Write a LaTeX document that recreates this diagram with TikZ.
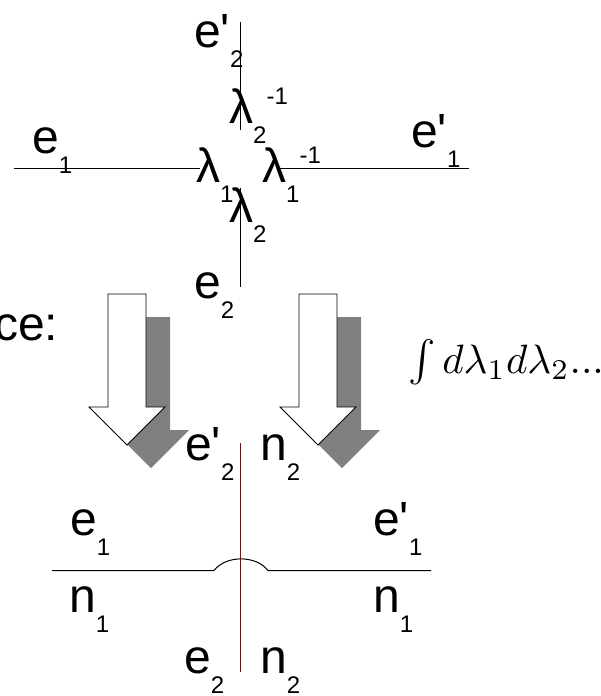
\documentclass[tikz,border=0pt]{standalone}
\usepackage{graphicx}
\usepackage{fontspec}
\newfontfamily\af{Liberation Sans}
\definecolor{myred}{RGB}{150,0,0}
\definecolor{shadowgray}{RGB}{128,128,128}
\newcommand\sbx[1]{\raisebox{-20pt}{\fontsize{24}{26}\selectfont #1}}
\newcommand\spx[1]{\raisebox{19pt}{\fontsize{24}{26}\selectfont #1}}
\tikzset{
  lbl/.style={anchor=base west, inner sep=0pt, font=\af\fontsize{48}{52}\selectfont},
  thinline/.style={line width=1pt, draw=black},
  redl/.style={line width=1.1pt, draw=myred},
  pics/bigarrow/.style={code={
    \fill[fill=shadowgray] (24,23) -- ++(38,0) -- ++(0,113) -- ++(19,0) -- ++(-38,38) -- ++(-38,-38) -- ++(19,0) -- cycle;
    \filldraw[fill=white, draw=black, line width=0.8pt] (0,0) -- (38,0) -- (38,113) -- (57,113) -- (19,151) -- (-19,113) -- (0,113) -- cycle;
  }}
}
\begin{document}
\begin{tikzpicture}[x=1pt, y=-1pt]
\useasboundingbox (0,0) rectangle (600,696);
\clip (0,0) rectangle (600,696);
% top diagram lines
\coordinate (hl1) at (14,168.5);
\coordinate (hl2) at (200,168.5);
\coordinate (hr1) at (277,168.5);
\coordinate (hr2) at (469,168.5);
\coordinate (vt1) at (240.5,22);
\coordinate (vt2) at (240.5,130);
\coordinate (vb1) at (240.5,188);
\coordinate (vb2) at (240.5,287);
\draw[thinline] (hl1) -- (hl2);
\draw[thinline] (hr1) -- (hr2);
\draw[thinline] (vt1) -- (vt2);
\draw[thinline] (vb1) -- (vb2);
% top labels
\node[lbl] (e2pt) at (194,47) {e'\sbx{2}};
\node[lbl] (l2inv) at (229,123) {λ\sbx{2}\spx{-1}};
\node[lbl] (e1t) at (32,153) {e\sbx{1}};
\node[lbl] (l1) at (196,182) {λ\sbx{1}};
\node[lbl] (l1inv) at (262,182) {λ\sbx{1}\spx{-1}};
\node[lbl] (e1pt) at (411,147) {e'\sbx{1}};
\node[lbl] (l2) at (229,222) {λ\sbx{2}};
\node[lbl] (e2t) at (194,298) {e\sbx{2}};
% middle
\node[lbl] (ce) at (-6,340) {ce:};
\pic at (108,294) {bigarrow};
\pic at (299,294) {bigarrow};
\node[anchor=base west, inner sep=0pt] (intg) at (408,373) {\scalebox{4.1}{$\int d\lambda_1 d\lambda_2 ...$}};
% bottom diagram
\coordinate (bl1) at (52,570.5);
\coordinate (ba1) at (214,570.5);
\coordinate (ba2) at (268,570.5);
\coordinate (bl2) at (431,570.5);
\draw[thinline] (bl1) -- (ba1) .. controls (226,555) and (256,555) .. (ba2) -- (bl2);
\coordinate (rt) at (240.5,443);
\coordinate (rb) at (240.5,672);
\draw[redl] (rt) -- (rb);
\node[lbl] (e2pb) at (185,460) {e'\sbx{2}};
\node[lbl] (n2m) at (260,460) {n\sbx{2}};
\node[lbl] (e1b) at (70,535) {e\sbx{1}};
\node[lbl] (e1pb) at (373,535) {e'\sbx{1}};
\node[lbl] (n1l) at (69,612) {n\sbx{1}};
\node[lbl] (n1r) at (373,612) {n\sbx{1}};
\node[lbl] (e2b) at (184,673) {e\sbx{2}};
\node[lbl] (n2b) at (260,673) {n\sbx{2}};
\end{tikzpicture}
\end{document}
